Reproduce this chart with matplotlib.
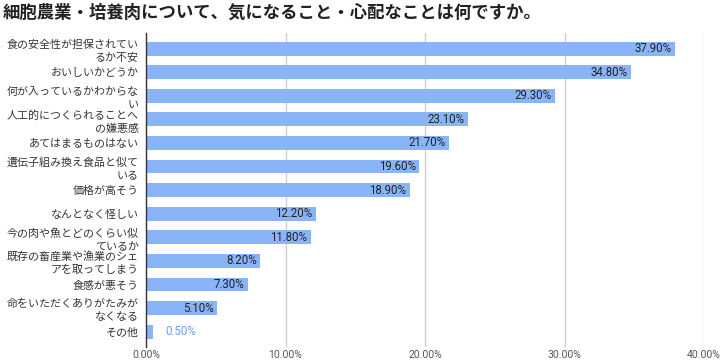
import matplotlib
matplotlib.use("Agg")
import matplotlib.pyplot as plt

plt.rcParams['font.family'] = ['Noto Sans CJK JP', 'DejaVu Sans']

title = "細胞農業・培養肉について、気になること・心配なことは何ですか。"
categories = [
    "食の安全性が担保されてい\nるか不安",
    "おいしいかどうか",
    "何が入っているかわからな\nい",
    "人工的につくられることへ\nの嫌悪感",
    "あてはまるものはない",
    "遺伝子組み換え食品と似て\nいる",
    "価格が高そう",
    "なんとなく怪しい",
    "今の肉や魚とどのくらい似\nているか",
    "既存の畜産業や漁業のシェ\nアを取ってしまう",
    "食感が悪そう",
    "命をいただくありがたみが\nなくなる",
    "その他",
]
values = [37.9, 34.8, 29.3, 23.1, 21.7, 19.6, 18.9, 12.2, 11.8, 8.2, 7.3, 5.1, 0.5]
xticks = [0, 10, 20, 30, 40]
xticklabels = ["0.00%", "10.00%", "20.00%", "30.00%", "40.00%"]

bar_color = '#8ab4f8'
fig = plt.figure(figsize=(7.2, 3.64), dpi=100)
ax = fig.add_axes([146/720, 1-347/364, (704-146)/720, (347-33)/364])

y = list(range(len(categories)))
ax.barh(y, values, height=0.59, color=bar_color, zorder=3)
ax.set_ylim(12.65, -0.66)
ax.set_xlim(0, 40)

ax.set_xticks(xticks)
ax.set_xticklabels(xticklabels, family=['Roboto', 'DejaVu Sans'], fontsize=7.5, color='#555555')
ax.set_yticks(y)
ax.set_yticklabels(categories, fontsize=7.9, color='#333333', linespacing=1.35)
ax.tick_params(axis='both', length=0)
ax.tick_params(axis='y', pad=5)
ax.tick_params(axis='x', pad=2)

ax.grid(axis='x', color='#cccccc', linewidth=0.9, zorder=0)
for s in ['top', 'right', 'bottom']:
    ax.spines[s].set_visible(False)
ax.spines['left'].set_color('#333333')
ax.spines['left'].set_linewidth(1.0)
ax.spines['left'].set_zorder(4)

for yi, v in zip(y, values):
    label = f"{v:.2f}%"
    if v > 3:
        ax.text(v - 0.25, yi, label, ha='right', va='center', fontsize=8.3,
                color='#222222', family=['Roboto', 'DejaVu Sans'], zorder=5)
    else:
        ax.text(v + 0.9, yi, label, ha='left', va='center', fontsize=8.3,
                color='#6f9ef2', family=['Roboto', 'DejaVu Sans'], zorder=5)

fig.text(3/720, 1-13/364, title, fontsize=12.5, fontweight='bold', color='#222222',
         ha='left', va='center')

fig.savefig("out.png", dpi=100)
